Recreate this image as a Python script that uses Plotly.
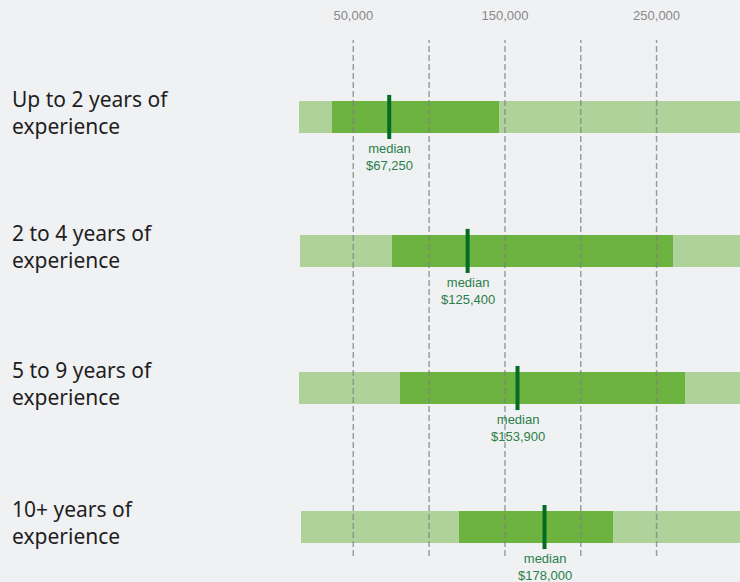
import plotly.graph_objects as go

categories = ["Up to 2 years of<br>experience", "2 to 4 years of<br>experience",
              "5 to 9 years of<br>experience", "10+ years of<br>experience"]
range_low = [14200, 14800, 14200, 15500]
range_high = [320000, 320000, 320000, 320000]
mid_low = [35900, 75500, 80800, 119600]
mid_high = [146000, 260700, 268600, 221200]
median_pos = [73700, 125400, 158300, 176100]
median_labels = ["$67,250", "$125,400", "$153,900", "$178,000"]
tick_vals = [50000, 100000, 150000, 200000, 250000]
tick_text = ["50,000", "", "150,000", "", "250,000"]

LIGHT = "#afd29a"
MID = "#6cb33f"
DARK = "#046b23"
TXT = "#2b7f4a"
BG = "#f0f1f3"

# vertical placement of the rows (layout only)
row_y = [0, 0.980, 1.983, 3.0]
bar_w = 0.234

fig = go.Figure()
fig.add_trace(go.Bar(y=row_y, x=[h - l for l, h in zip(range_low, range_high)], base=range_low,
                     orientation="h", width=bar_w, marker=dict(color=LIGHT, line=dict(width=0)),
                     hoverinfo="skip", showlegend=False))
fig.add_trace(go.Bar(y=row_y, x=[h - l for l, h in zip(mid_low, mid_high)], base=mid_low,
                     orientation="h", width=bar_w, marker=dict(color=MID, line=dict(width=0)),
                     hoverinfo="skip", showlegend=False))

# dashed grid lines above bars
for v in tick_vals:
    fig.add_shape(type="line", xref="x", yref="paper", x0=v, x1=v, y0=0, y1=1,
                  layer="above", line=dict(color="rgba(130,130,130,0.75)", width=1.5, dash="6px,3px"))

fig.add_trace(go.Scatter(y=row_y, x=median_pos, mode="markers",
                         marker=dict(symbol="line-ns", size=31.5, line=dict(color=DARK, width=4)),
                         hoverinfo="skip", showlegend=False))

L = 277
W = 740
plot_w = W - L
for yv, cat, med, lab in zip(row_y, categories, median_pos, median_labels):
    fig.add_annotation(x=(10 - L) / plot_w, xref="paper", y=yv, yref="y", text=cat,
                       xanchor="left", yanchor="middle", align="left", yshift=4.5, showarrow=False,
                       font=dict(family="Noto Sans", size=21, color="#1e1e1e"))
    fig.add_annotation(x=med, y=yv, xref="x", yref="y", text="median<br>" + lab,
                       xanchor="center", yanchor="middle", yshift=-40, showarrow=False,
                       font=dict(family="Liberation Sans, Arial", size=13, color=TXT))

fig.update_layout(
    width=740, height=582,
    margin=dict(l=L, r=0, t=40, b=26),
    paper_bgcolor=BG, plot_bgcolor=BG,
    barmode="overlay", bargap=0,
    xaxis=dict(range=[-300, 305000], side="top", tickvals=tick_vals, ticktext=tick_text,
               showgrid=False, zeroline=False, showline=False, ticks="",
               tickfont=dict(family="Liberation Sans, Arial", size=13, color="#888888"),
               ticklabelstandoff=16, fixedrange=True),
    yaxis=dict(range=[3.212, -0.563], showticklabels=False, showgrid=False, zeroline=False,
               fixedrange=True),
)

fig.write_html("out.html", config={"displayModeBar": False},
               post_script="document.body.style.margin='0';document.body.style.overflow='hidden';"
                           "document.body.style.background='#f0f1f3';")
